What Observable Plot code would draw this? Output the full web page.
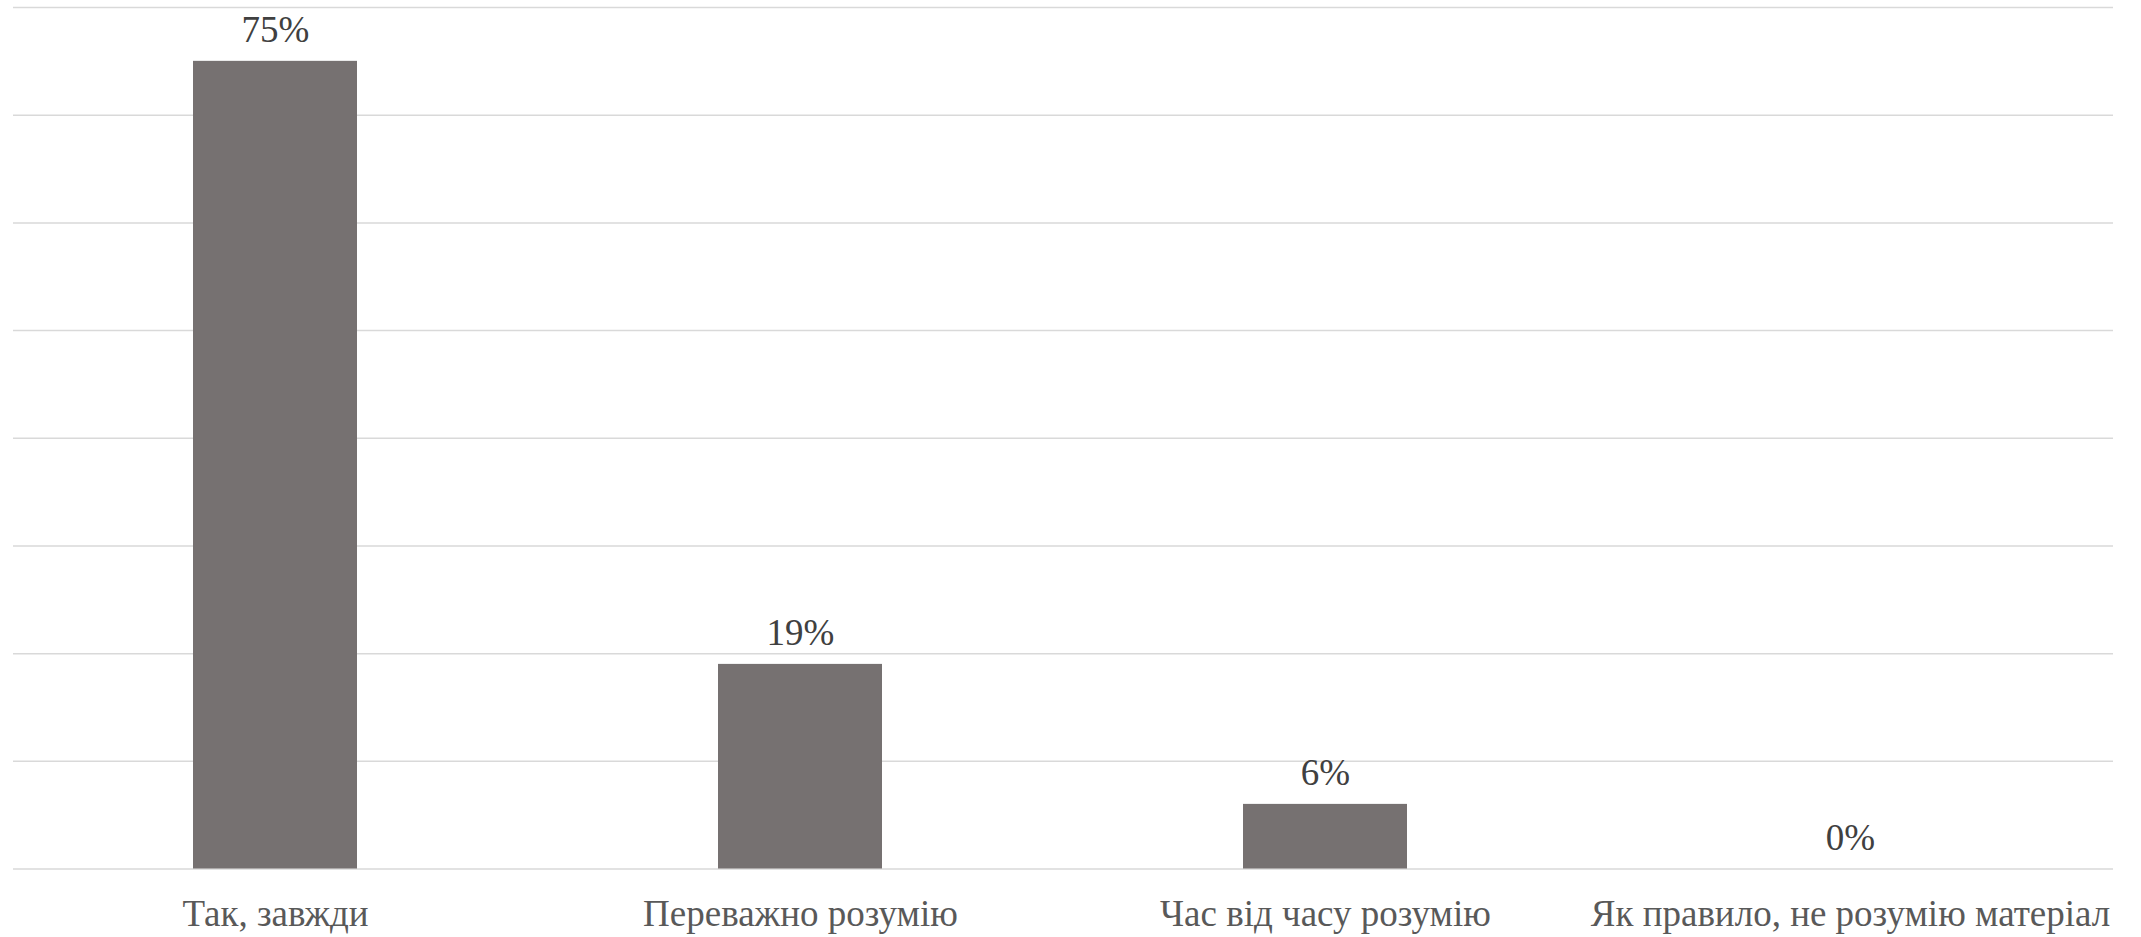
<!DOCTYPE html>
<html>
<head>
<meta charset="utf-8">
<script src="https://cdn.jsdelivr.net/npm/d3@7"></script>
<script src="https://cdn.jsdelivr.net/npm/@observablehq/plot@0.6"></script>
<style>
  html, body { margin: 0; padding: 0; background: #ffffff; }
  #chart svg { display: block; }
  #chart svg, #chart svg text { font-family: "Liberation Serif", "Times New Roman", serif !important; }
</style>
</head>
<body>
<div id="chart"></div>
<script>
const categories = ["Так, завжди", "Переважно розумію", "Час від часу розумію", "Як правило, не розумію матеріал"];
const values = [0.75, 0.19, 0.06, 0.0];
const valueLabels = ["75%", "19%", "6%", "0%"];
const gridTicks = [0, 0.1, 0.2, 0.3, 0.4, 0.5, 0.6, 0.7, 0.8];

const data = categories.map((c, i) => ({category: c, value: values[i], label: valueLabels[i]}));

const chart = Plot.plot({
  width: 2141,
  height: 937,
  marginLeft: 13,
  marginRight: 28,
  marginTop: 7,
  marginBottom: 68.5,
  style: {background: "#ffffff"},
  x: {domain: categories, paddingInner: 0.687, paddingOuter: 0.3435, label: null},
  y: {domain: [0, 0.8], axis: null},
  marks: [
    Plot.ruleY(gridTicks, {stroke: "#d9d9d9", strokeWidth: 1.5}),
    Plot.barY(data, {x: "category", y: "value", fill: "#767171"}),
    Plot.text(data, {x: "category", y: "value", text: "label", lineAnchor: "bottom", dy: -19,
      fontSize: 37, fill: "#404040"}),
    Plot.axisX({tickSize: 0, tickPadding: 31, fontSize: 37, fill: "#595959", label: null})
  ]
});
document.getElementById("chart").appendChild(chart);
</script>
</body>
</html>
